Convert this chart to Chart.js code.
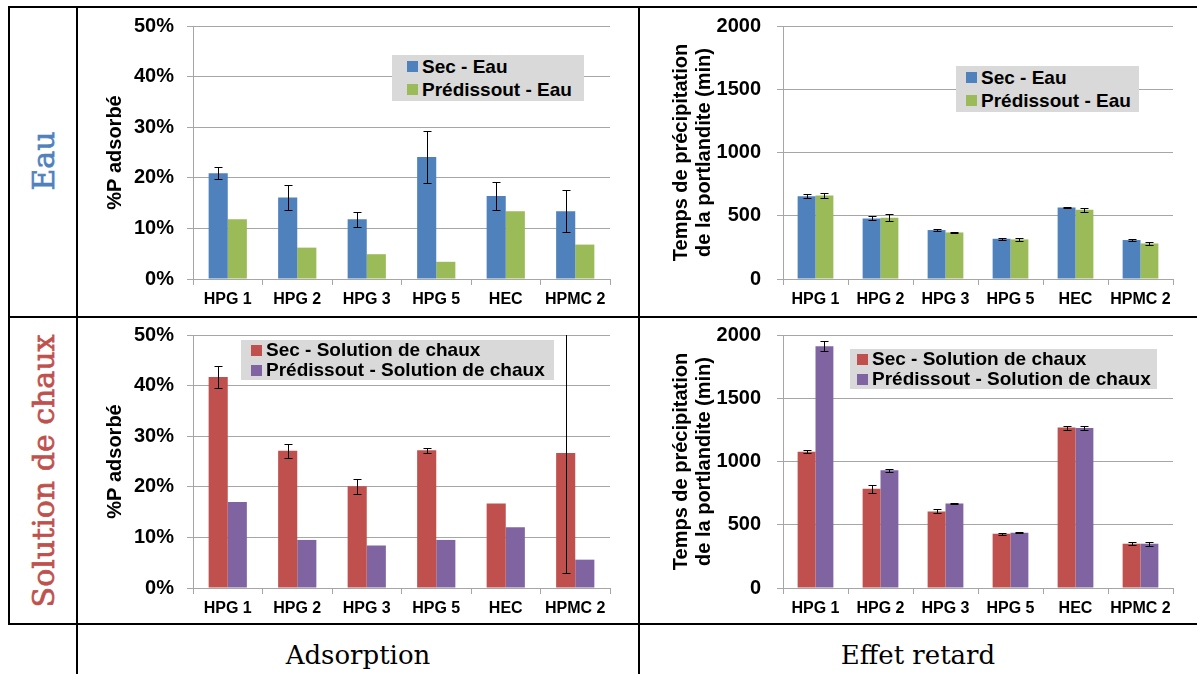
<!DOCTYPE html>
<html>
<head>
<meta charset="utf-8">
<script src="https://cdn.jsdelivr.net/npm/chart.js@4.4.1/dist/chart.umd.min.js"></script>
<style>
  body { margin: 0; width: 1197px; height: 674px; background: #fff; position: relative; overflow: hidden; }
  canvas { position: absolute; }
  .line { position: absolute; background: #000; z-index: 5; }
  .legend { position: absolute; background: #d9d9d9; z-index: 3; box-sizing: border-box;
            font: bold 19px 'Liberation Sans', Arial, sans-serif; color: #000; }
  .legend .row { display: flex; align-items: center; white-space: nowrap; }
  .legend .sw { width: 11px; height: 11px; margin-right: 4px; flex: none; }
  .side { position: absolute; font-family: 'DejaVu Serif', serif; font-size: 30px; white-space: nowrap;
          -webkit-text-stroke: 0.7px currentColor;
          transform: translate(-50%, -50%) rotate(-90deg); }
  .foot { position: absolute; font-family: 'DejaVu Serif', serif; font-size: 26px; white-space: nowrap;
          transform: translate(-50%, -50%); color: #000; }
</style>
</head>
<body>
<canvas id="adsEau" width="560" height="305" style="left:78px;top:8px"></canvas>
<canvas id="retEau" width="557" height="305" style="left:640px;top:8px"></canvas>
<canvas id="adsChaux" width="560" height="305" style="left:78px;top:317px"></canvas>
<canvas id="retChaux" width="557" height="305" style="left:640px;top:317px"></canvas>

<!-- table rules -->
<div class="line" style="left:8px;top:6px;width:1189px;height:2px"></div>
<div class="line" style="left:8px;top:316px;width:1189px;height:2px"></div>
<div class="line" style="left:8px;top:623px;width:1189px;height:2px"></div>
<div class="line" style="left:8px;top:6px;width:2px;height:619px"></div>
<div class="line" style="left:76px;top:6px;width:2px;height:668px"></div>
<div class="line" style="left:638px;top:6px;width:2px;height:668px"></div>

<div class="side" style="left:43px;top:161px;color:#4f81bd">Eau</div>
<div class="side" style="left:43px;top:471px;color:#c0504d">Solution de chaux</div>
<div class="foot" style="left:358px;top:655px">Adsorption</div>
<div class="foot" style="left:918px;top:655px">Effet retard</div>

<script>
const categories = ['HPG 1', 'HPG 2', 'HPG 3', 'HPG 5', 'HEC', 'HPMC 2'];

// Adsorption (%P adsorbé) - eau
const adsEauSec    = [20.9, 16.1, 11.8, 24.1, 16.4, 13.4];
const adsEauSecErr = [1.15, 2.4, 1.5, 5.2, 2.75, 4.2];
const adsEauPre    = [11.8, 6.2, 4.9, 3.4, 13.4, 6.8];

// Effet retard (min) - eau
const retEauSec    = [655, 479, 387, 318, 565, 308];
const retEauSecErr = [17, 16, 8, 8, 7, 8];
const retEauPre    = [660, 484, 368, 313, 547, 281];
const retEauPreErr = [16, 26, 4, 13, 16, 13];

// Adsorption - solution de chaux
const adsChauxSec    = [41.7, 27.1, 20.1, 27.2, 16.7, 26.7];
const adsChauxSecErr = [2.2, 1.4, 1.5, 0.5, null, 23.7];
const adsChauxPre    = [17.0, 9.5, 8.4, 9.5, 12.0, 5.6];

// Effet retard - solution de chaux
const retChauxSec    = [1078, 784, 605, 429, 1268, 350];
const retChauxSecErr = [10, 30, 16, 7, 16, 13];
const retChauxPre    = [1912, 931, 668, 437, 1265, 350];
const retChauxPreErr = [37, 13, 5, 5, 13, 17];

const pctTicks = [0, 10, 20, 30, 40, 50];
const minTicks = [0, 500, 1000, 1500, 2000];

const BLUE = '#4f81bd', GREEN = '#9bbb59', RED = '#c0504d', PURPLE = '#8064a2';
const GRID = '#a6a6a6';
const FONT = "'Liberation Sans', Arial, sans-serif";

Chart.defaults.font.family = FONT;
Chart.defaults.color = '#000';

// simple error bars on top of the bars, clipped to the plot area
const errorBarPlugin = {
  id: 'errorBars',
  afterDatasetsDraw(chart) {
    const { ctx, chartArea, scales: { y } } = chart;
    ctx.save();
    ctx.beginPath();
    ctx.rect(chartArea.left, chartArea.top, chartArea.width, chartArea.height);
    ctx.clip();
    ctx.strokeStyle = '#000';
    ctx.lineWidth = 1;
    chart.data.datasets.forEach((ds, di) => {
      if (!ds.errors) return;
      chart.getDatasetMeta(di).data.forEach((bar, j) => {
        const e = ds.errors[j];
        if (e == null) return;
        const v = ds.data[j];
        const yt = Math.round(y.getPixelForValue(v + e)) + 0.5;
        const yb = Math.round(y.getPixelForValue(v - e)) + 0.5;
        const x = Math.round(bar.x) + 0.5;
        const cw = 4;
        ctx.beginPath();
        ctx.moveTo(x, yt); ctx.lineTo(x, yb);
        ctx.moveTo(x - cw, yt); ctx.lineTo(x + cw, yt);
        ctx.moveTo(x - cw, yb); ctx.lineTo(x + cw, yb);
        ctx.stroke();
      });
    });
    ctx.restore();
  }
};

function makeDataset(label, color, data, errors) {
  return { label, data, errors, backgroundColor: color, borderWidth: 0 };
}

function buildLegend(chart, box) {
  const div = document.createElement('div');
  div.className = 'legend';
  div.style.left = box.left + 'px';
  div.style.top = box.top + 'px';
  div.style.width = box.width + 'px';
  div.style.paddingLeft = box.pad + 'px';
  chart.data.datasets.forEach(ds => {
    const row = document.createElement('div');
    row.className = 'row';
    row.style.height = box.row + 'px';
    const sw = document.createElement('span');
    sw.className = 'sw';
    sw.style.background = ds.backgroundColor;
    row.appendChild(sw);
    row.appendChild(document.createTextNode(ds.label));
    div.appendChild(row);
  });
  document.body.appendChild(div);
}

function makeChart(id, def) {
  const ticks = def.ticks;
  const chart = new Chart(document.getElementById(id), {
    type: 'bar',
    data: { labels: categories, datasets: def.datasets },
    options: {
      responsive: false,
      animation: false,
      layout: { padding: { left: def.padLeft, right: def.padRight, top: 18, bottom: 0 } },
      datasets: { bar: { categoryPercentage: 0.55, barPercentage: 1.0 } },
      plugins: { legend: { display: false }, tooltip: { enabled: false } },
      scales: {
        x: {
          grid: { offset: true, drawOnChartArea: false, drawTicks: true, tickLength: 6, color: GRID },
          border: { color: GRID },
          ticks: { font: { size: 16, weight: 'bold' }, padding: 5, maxRotation: 0, autoSkip: false },
          afterFit: s => { s.height = 34; s.paddingLeft = 0; s.paddingRight = 0; }
        },
        y: {
          min: ticks[0],
          max: ticks[ticks.length - 1],
          afterBuildTicks: s => { s.ticks = ticks.map(v => ({ value: v })); },
          grid: { color: GRID, tickLength: 6 },
          border: { color: GRID },
          ticks: { font: { size: 20, weight: 'bold' }, padding: def.tickPad, callback: def.fmt },
          title: { display: true, text: def.title, padding: 0,
                   font: { size: 20, weight: 'bold', lineHeight: 1.15 } },
          // fixed axis box so the plot areas line up with the table cells
          afterFit: s => { s.width = def.axisWidth; s.paddingTop = 0; s.paddingBottom = 0; }
        }
      }
    },
    plugins: [errorBarPlugin]
  });
  buildLegend(chart, def.legend);
  return chart;
}

const pctFmt = v => v + '%';
const numFmt = v => String(v);

makeChart('adsEau', {
  ticks: pctTicks, fmt: pctFmt, title: '%P adsorbé',
  padLeft: 26, padRight: 28, axisWidth: 89, tickPad: 13,
  legend: { left: 392, top: 55, width: 192, pad: 15, row: 23 },
  datasets: [
    makeDataset('Sec - Eau', BLUE, adsEauSec, adsEauSecErr),
    makeDataset('Prédissout - Eau', GREEN, adsEauPre, null),
  ]
});

makeChart('retEau', {
  ticks: minTicks, fmt: numFmt, title: ['Temps de précipitation', 'de la portlandite (min)'],
  padLeft: 30, padRight: 24, axisWidth: 113, tickPad: 16,
  legend: { left: 956, top: 66, width: 183, pad: 10, row: 23 },
  datasets: [
    makeDataset('Sec - Eau', BLUE, retEauSec, retEauSecErr),
    makeDataset('Prédissout - Eau', GREEN, retEauPre, retEauPreErr),
  ]
});

makeChart('adsChaux', {
  ticks: pctTicks, fmt: pctFmt, title: '%P adsorbé',
  padLeft: 26, padRight: 28, axisWidth: 89, tickPad: 13,
  legend: { left: 241, top: 340, width: 313, pad: 10, row: 20 },
  datasets: [
    makeDataset('Sec - Solution de chaux', RED, adsChauxSec, adsChauxSecErr),
    makeDataset('Prédissout - Solution de chaux', PURPLE, adsChauxPre, null),
  ]
});

makeChart('retChaux', {
  ticks: minTicks, fmt: numFmt, title: ['Temps de précipitation', 'de la portlandite (min)'],
  padLeft: 30, padRight: 24, axisWidth: 113, tickPad: 16,
  legend: { left: 850, top: 349, width: 307, pad: 7, row: 20 },
  datasets: [
    makeDataset('Sec - Solution de chaux', RED, retChauxSec, retChauxSecErr),
    makeDataset('Prédissout - Solution de chaux', PURPLE, retChauxPre, retChauxPreErr),
  ]
});
</script>
</body>
</html>
